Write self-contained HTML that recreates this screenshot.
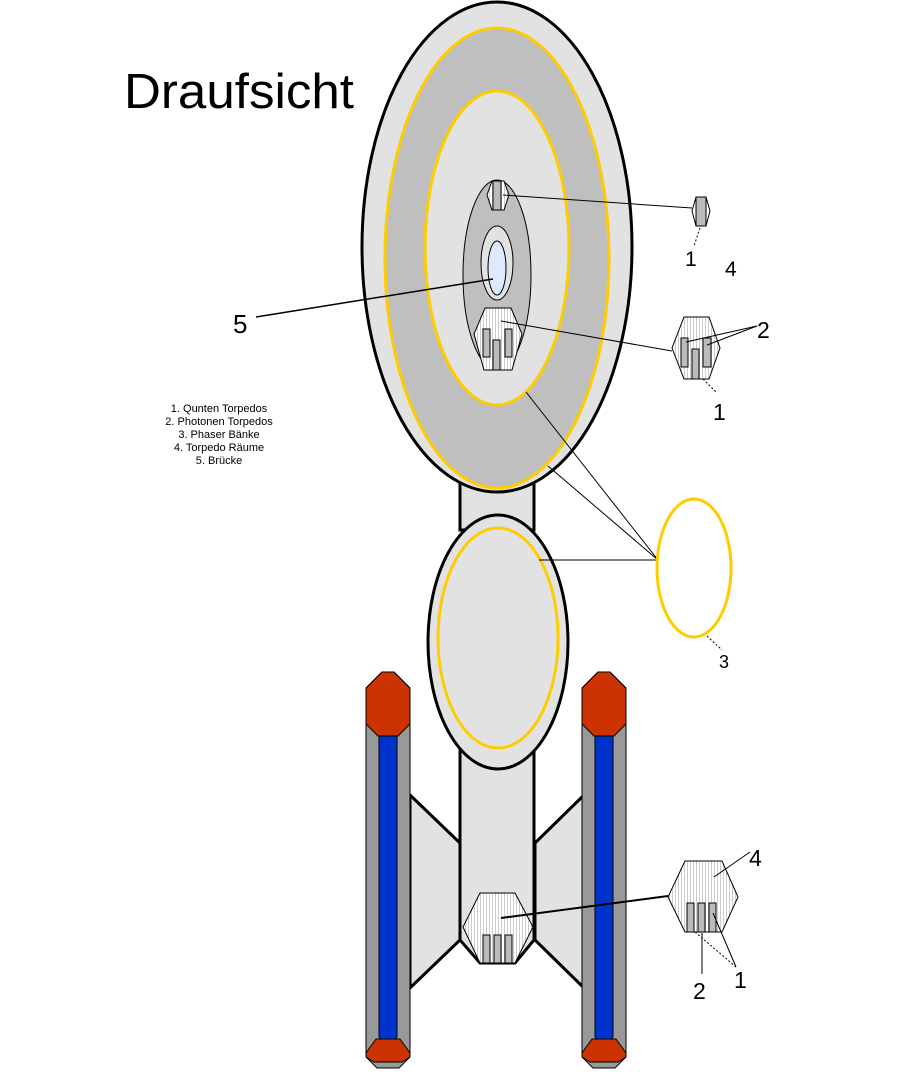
<!DOCTYPE html>
<html><head><meta charset="utf-8"><style>
html,body{margin:0;padding:0;background:#fff;}
svg{display:block;}
text{font-family:"Liberation Sans",sans-serif;}
</style></head><body>
<svg width="900" height="1076" viewBox="0 0 900 1076" xmlns="http://www.w3.org/2000/svg">
<defs>
<pattern id="st" width="3" height="10" patternUnits="userSpaceOnUse">
<rect width="3" height="10" fill="#fff"/><rect width="1" height="10" fill="#ccc"/>
</pattern>
</defs>
<text x="124" y="108" font-size="49" fill="#000" textLength="230" lengthAdjust="spacingAndGlyphs">Draufsicht</text>
<g font-size="11" text-anchor="middle" fill="#000">
<text x="219" y="412">1. Qunten Torpedos</text>
<text x="219" y="425">2. Photonen Torpedos</text>
<text x="219" y="438">3. Phaser Bänke</text>
<text x="219" y="451">4. Torpedo Räume</text>
<text x="219" y="464">5. Brücke</text>
</g>

<rect x="460" y="470" width="74" height="60" fill="#e2e2e2" stroke="#000" stroke-width="3"/>
<polygon points="410,795 460,843 460,940 410,988" fill="#e2e2e2" stroke="#000" stroke-width="3"/>
<polygon points="584,795 535,843 535,940 584,988" fill="#e2e2e2" stroke="#000" stroke-width="3"/>
<polygon points="460,740 534,740 534,940 515,963 480,963 460,940" fill="#e2e2e2" stroke="#000" stroke-width="3"/>

<g>
<polygon points="366,688 382,672 394,672 410,688 410,1057 399,1068 377,1068 366,1057" fill="#999" stroke="#000" stroke-width="1"/>
<rect x="379" y="730" width="18" height="310" rx="4" fill="#0033cc" stroke="#000" stroke-width="1"/>
<polygon points="366,688 382,672 394,672 410,688 410,724 398,736 378,736 366,724" fill="#cc3300" stroke="#000" stroke-width="1"/>
<polygon points="366,1053 376,1039 400,1039 410,1053 410,1057 402,1062 374,1062 366,1057" fill="#cc3300" stroke="#000" stroke-width="1"/>
</g>
<g transform="translate(216,0)">
<polygon points="366,688 382,672 394,672 410,688 410,1057 399,1068 377,1068 366,1057" fill="#999" stroke="#000" stroke-width="1"/>
<rect x="379" y="730" width="18" height="310" rx="4" fill="#0033cc" stroke="#000" stroke-width="1"/>
<polygon points="366,688 382,672 394,672 410,688 410,724 398,736 378,736 366,724" fill="#cc3300" stroke="#000" stroke-width="1"/>
<polygon points="366,1053 376,1039 400,1039 410,1053 410,1057 402,1062 374,1062 366,1057" fill="#cc3300" stroke="#000" stroke-width="1"/>
</g>

<ellipse cx="498" cy="642" rx="70" ry="127" fill="#e2e2e2" stroke="#000" stroke-width="3"/>
<ellipse cx="498" cy="638" rx="60" ry="110" fill="none" stroke="#ffcc00" stroke-width="3"/>

<ellipse cx="497" cy="247" rx="135" ry="245" fill="#e2e2e2" stroke="#000" stroke-width="3"/>
<ellipse cx="497" cy="258" rx="112" ry="230" fill="#bfbfbf" stroke="#ffcc00" stroke-width="3"/>
<ellipse cx="497" cy="248" rx="72" ry="157" fill="#e2e2e2" stroke="#ffcc00" stroke-width="3"/>
<ellipse cx="497" cy="275" rx="34" ry="95" fill="#bfbfbf" stroke="#000" stroke-width="1"/>
<ellipse cx="497" cy="263" rx="16" ry="37" fill="#e2e2e2" stroke="#000" stroke-width="1"/>
<ellipse cx="497" cy="268" rx="9" ry="27" fill="#dbeaff" stroke="#000" stroke-width="1"/>
<polygon points="492,181 504,181 509,195 504,210 492,210 487,195" fill="url(#st)" stroke="#000" stroke-width="1"/>
<rect x="493" y="181" width="8" height="29" fill="#bbb" stroke="#000" stroke-width="1"/>
<polygon points="485,308 511,308 522,334 512,370 484,370 474,334" fill="url(#st)" stroke="#000" stroke-width="1"/>
<rect x="483" y="329" width="7" height="28" fill="#bbb" stroke="#000" stroke-width="1"/>
<rect x="493" y="340" width="7" height="30" fill="#bbb" stroke="#000" stroke-width="1"/>
<rect x="505" y="329" width="7" height="28" fill="#bbb" stroke="#000" stroke-width="1"/>
<polygon points="480,893 515,893 533,927 515,963 480,963 463,927" fill="url(#st)" stroke="#000" stroke-width="1"/>
<rect x="483" y="935" width="7" height="28" fill="#bbb" stroke="#000" stroke-width="1"/>
<rect x="494" y="935" width="7" height="28" fill="#bbb" stroke="#000" stroke-width="1"/>
<rect x="505" y="935" width="7" height="28" fill="#bbb" stroke="#000" stroke-width="1"/>

<polygon points="696,197 706,197 710,211 706,226 696,226 692,211" fill="#fff" stroke="#000" stroke-width="1"/>
<rect x="696" y="197" width="10" height="29" fill="#bbb" stroke="#000" stroke-width="1"/>
<line x1="503" y1="195" x2="692" y2="208" stroke="#000" stroke-width="1"/>
<line x1="700" y1="228" x2="694" y2="246" stroke="#000" stroke-width="1" stroke-dasharray="2,2"/>
<text x="685" y="266" font-size="21">1</text>
<text x="725" y="276" font-size="21">4</text>

<polygon points="684,317 709,317 720,348 709,379 684,379 672,348" fill="url(#st)" stroke="#000" stroke-width="1"/>
<rect x="681" y="338" width="7" height="29" fill="#bbb" stroke="#000" stroke-width="1"/>
<rect x="692" y="349" width="7" height="30" fill="#bbb" stroke="#000" stroke-width="1"/>
<rect x="703" y="338" width="8" height="29" fill="#bbb" stroke="#000" stroke-width="1"/>
<line x1="501" y1="321" x2="672" y2="351" stroke="#000" stroke-width="1"/>
<line x1="686" y1="342" x2="757" y2="326" stroke="#000" stroke-width="1"/>
<line x1="707" y1="345" x2="757" y2="326" stroke="#000" stroke-width="1"/>
<text x="757" y="338" font-size="23">2</text>
<line x1="703" y1="379" x2="717" y2="393" stroke="#000" stroke-width="1" stroke-dasharray="2,2"/>
<text x="713" y="420" font-size="23">1</text>

<line x1="256" y1="317" x2="493" y2="279" stroke="#000" stroke-width="1.5"/>
<text x="233" y="333" font-size="26">5</text>

<line x1="526" y1="392" x2="658" y2="560" stroke="#000" stroke-width="1"/>
<line x1="548" y1="466" x2="658" y2="560" stroke="#000" stroke-width="1"/>
<line x1="539" y1="560" x2="658" y2="560" stroke="#000" stroke-width="1"/>
<ellipse cx="694" cy="568" rx="37" ry="69" fill="none" stroke="#ffcc00" stroke-width="3"/>
<line x1="707" y1="636" x2="722" y2="650" stroke="#000" stroke-width="1" stroke-dasharray="2,2"/>
<text x="719" y="668" font-size="18">3</text>

<polygon points="685,861 722,861 738,897 722,932 685,932 668,897" fill="url(#st)" stroke="#000" stroke-width="1"/>
<rect x="687" y="903" width="7" height="29" fill="#bbb" stroke="#000" stroke-width="1"/>
<rect x="698" y="903" width="7" height="29" fill="#bbb" stroke="#000" stroke-width="1"/>
<rect x="709" y="903" width="7" height="29" fill="#bbb" stroke="#000" stroke-width="1"/>
<line x1="501" y1="918" x2="668" y2="896" stroke="#000" stroke-width="2"/>
<line x1="714" y1="877" x2="750" y2="852" stroke="#000" stroke-width="1"/>
<text x="749" y="866" font-size="23">4</text>
<line x1="702" y1="933" x2="702" y2="974" stroke="#000" stroke-width="1"/>
<text x="693" y="999" font-size="23">2</text>
<line x1="713" y1="913" x2="736" y2="967" stroke="#000" stroke-width="1"/>
<line x1="695" y1="932" x2="736" y2="967" stroke="#000" stroke-width="1" stroke-dasharray="2,2"/>
<text x="734" y="988" font-size="23">1</text>
</svg>
</body></html>
